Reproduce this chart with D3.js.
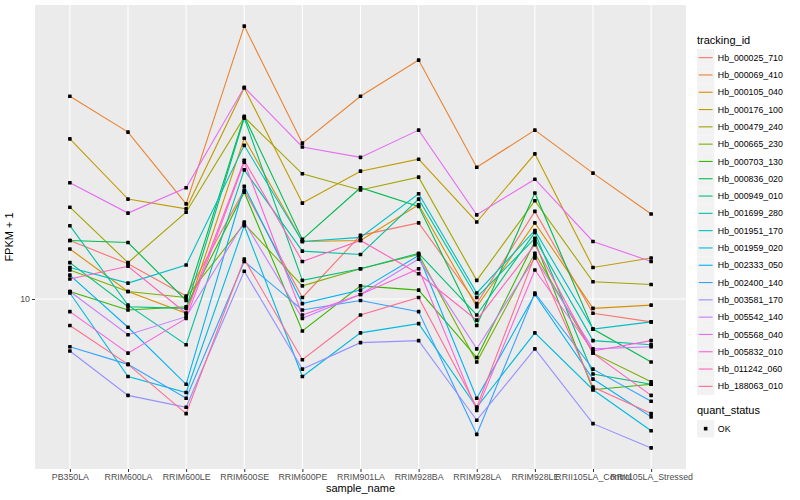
<!DOCTYPE html>
<html>
<head>
<meta charset="utf-8">
<script src="https://d3js.org/d3.v7.min.js"></script>
<style>
  body { margin: 0; background: #fff; }
  svg { font-family: "Liberation Sans", Arial, sans-serif; }
</style>
</head>
<body>
<svg id="chart" width="800" height="500"></svg>
<script>
// samples on the x axis
const categories = ["PB350LA", "RRIM600LA", "RRIM600LE", "RRIM600SE", "RRIM600PE",
  "RRIM901LA", "RRIM928BA", "RRIM928LA", "RRIM928LE", "RRII105LA_Control", "RRII105LA_Stressed"];

const trackingIds = ["Hb_000025_710", "Hb_000069_410", "Hb_000105_040", "Hb_000176_100",
  "Hb_000479_240", "Hb_000665_230", "Hb_000703_130", "Hb_000836_020", "Hb_000949_010",
  "Hb_001699_280", "Hb_001951_170", "Hb_001959_020", "Hb_002333_050", "Hb_002400_140",
  "Hb_003581_170", "Hb_005542_140", "Hb_005568_040", "Hb_005832_010", "Hb_011242_060",
  "Hb_188063_010"];

// FPKM + 1, one value per sample
const hb_000025_710 = [14.7, 12.6, 10.2, 20.5, 10.1, 15.2, 16.5, 9.7, 17.8, 9.1, 8.6];
const hb_000069_410 = [38.0, 30.0, 18.7, 60.3, 27.9, 38.0, 48.2, 23.8, 30.4, 22.9, 17.5];
const hb_000105_040 = [13.9, 10.5, 9.1, 28.8, 14.6, 14.7, 18.6, 9.5, 16.5, 9.4, 9.6];
const hb_000176_100 = [28.7, 19.3, 18.1, 40.1, 18.8, 23.2, 25.1, 16.6, 26.0, 12.3, 13.1];
const hb_000479_240 = [18.3, 12.7, 17.7, 33.1, 22.8, 20.5, 22.3, 11.3, 19.1, 11.2, 11.0];
const hb_000665_230 = [12.1, 10.5, 10.1, 16.4, 10.9, 12.2, 13.4, 6.6, 13.5, 7.0, 5.8];
const hb_000703_130 = [10.5, 9.3, 9.5, 20.2, 8.1, 10.9, 10.6, 6.8, 14.6, 5.5, 5.7];
const hb_000836_020 = [14.7, 14.5, 9.9, 33.3, 14.8, 20.8, 18.4, 8.4, 20.1, 8.2, 6.6];
const hb_000949_010 = [12.7, 9.5, 9.4, 32.9, 11.3, 12.2, 13.5, 9.0, 15.5, 6.1, 5.7];
const hb_001699_280 = [16.2, 9.6, 7.4, 23.4, 13.7, 13.4, 19.3, 10.1, 14.9, 7.6, 7.4];
const hb_001951_170 = [12.3, 11.1, 12.5, 27.5, 14.6, 15.0, 20.0, 10.4, 15.7, 8.2, 8.6];
const hb_001959_020 = [10.4, 6.0, 5.4, 16.2, 6.0, 8.0, 8.5, 4.9, 8.0, 5.5, 4.2];
const hb_002333_050 = [11.7, 8.3, 5.7, 21.0, 9.7, 10.6, 13.3, 5.2, 10.3, 5.9, 4.6];
const hb_002400_140 = [7.3, 6.5, 5.2, 12.8, 9.3, 9.9, 9.2, 4.1, 10.4, 6.3, 5.1];
const hb_003581_170 = [7.1, 5.3, 4.9, 12.0, 6.3, 7.5, 7.6, 4.5, 7.2, 4.4, 3.75];
const hb_005542_140 = [10.5, 7.9, 8.9, 16.6, 8.8, 10.3, 13.0, 7.2, 13.1, 7.2, 7.3];
const hb_005568_040 = [21.5, 17.6, 20.8, 40.3, 27.2, 25.4, 30.4, 17.4, 22.0, 14.6, 12.8];
const hb_005832_010 = [9.2, 7.0, 8.8, 24.6, 9.0, 10.3, 12.2, 4.8, 12.1, 7.1, 7.6];
const hb_011242_060 = [11.4, 12.4, 9.1, 24.9, 12.8, 14.7, 11.8, 8.7, 14.3, 7.0, 5.3];
const hb_188063_010 = [8.4, 6.5, 4.7, 13.0, 6.7, 9.0, 10.1, 4.9, 13.3, 5.6, 4.7];

const seriesValues = [hb_000025_710, hb_000069_410, hb_000105_040, hb_000176_100,
  hb_000479_240, hb_000665_230, hb_000703_130, hb_000836_020, hb_000949_010,
  hb_001699_280, hb_001951_170, hb_001959_020, hb_002333_050, hb_002400_140,
  hb_003581_170, hb_005542_140, hb_005568_040, hb_005832_010, hb_011242_060,
  hb_188063_010];

const yTicks = [10];

// ggplot hue palette for 20 levels
const palette = ["#F8766D", "#EA8331", "#D89000", "#C09B00", "#A3A500", "#7CAE00",
  "#39B600", "#00BB4E", "#00BF7D", "#00C1A3", "#00BFC4", "#00BAE0", "#00B0F6",
  "#35A2FF", "#9590FF", "#C77CFF", "#E76BF3", "#FA62DB", "#FF62BC", "#FF6C91"];

const series = trackingIds.map((id, i) => ({
  id: id,
  color: palette[i],
  points: categories.map((c, j) => ({ sample: c, value: seriesValues[i][j] }))
}));

const svg = d3.select("#chart");
const panel = { left: 35, right: 686, top: 5, bottom: 469 };

const x = d3.scalePoint()
  .domain(categories)
  .range([panel.left, panel.right])
  .padding(0.6);

// log scale with 5% expansion like ggplot
const allValues = seriesValues.flat();
const lo = Math.log10(d3.min(allValues)), hi = Math.log10(d3.max(allValues));
const pad = (hi - lo) * 0.05;
const y = d3.scaleLog()
  .domain([Math.pow(10, lo - pad), Math.pow(10, hi + pad)])
  .range([panel.bottom, panel.top]);

// panel background
svg.append("rect")
  .attr("x", panel.left).attr("y", panel.top)
  .attr("width", panel.right - panel.left)
  .attr("height", panel.bottom - panel.top)
  .attr("fill", "#EBEBEB");

// grid
const grid = svg.append("g");
grid.selectAll("line.gx")
  .data(categories)
  .join("line")
  .attr("class", "gx")
  .attr("x1", d => x(d)).attr("x2", d => x(d))
  .attr("y1", panel.top).attr("y2", panel.bottom)
  .attr("stroke", "#fff").attr("stroke-width", 1.1);
grid.selectAll("line.gy")
  .data(yTicks)
  .join("line")
  .attr("class", "gy")
  .attr("x1", panel.left).attr("x2", panel.right)
  .attr("y1", d => y(d)).attr("y2", d => y(d))
  .attr("stroke", "#fff").attr("stroke-width", 1.1);

// lines
const line = d3.line()
  .x(d => x(d.sample))
  .y(d => y(d.value));

svg.append("g")
  .selectAll("path")
  .data(series)
  .join("path")
  .attr("d", d => line(d.points))
  .attr("fill", "none")
  .attr("stroke", d => d.color)
  .attr("stroke-width", 1.1);

// points
const pt = 3.6;
svg.append("g")
  .selectAll("rect")
  .data(series.flatMap(s => s.points))
  .join("rect")
  .attr("x", d => x(d.sample) - pt / 2)
  .attr("y", d => y(d.value) - pt / 2)
  .attr("width", pt).attr("height", pt)
  .attr("rx", 0.6)
  .attr("fill", "#000");

// axes
const xAxis = svg.append("g")
  .attr("transform", `translate(0,${panel.bottom})`)
  .call(d3.axisBottom(x).tickSize(3).tickPadding(2));
const yAxis = svg.append("g")
  .attr("transform", `translate(${panel.left},0)`)
  .call(d3.axisLeft(y).tickValues(yTicks).tickFormat(d3.format("d")).tickSize(3).tickPadding(2));

[xAxis, yAxis].forEach(a => {
  a.select(".domain").remove();
  a.selectAll(".tick line").attr("stroke", "#333333");
  a.selectAll(".tick text")
    .attr("fill", "#4D4D4D")
    .attr("font-size", "8.8px")
    .attr("font-family", "'Liberation Sans', Arial, sans-serif");
});

svg.append("text")
  .attr("x", (panel.left + panel.right) / 2)
  .attr("y", 492)
  .attr("text-anchor", "middle")
  .attr("font-size", "11px")
  .text("sample_name");

svg.append("text")
  .attr("transform", `translate(13,${(panel.top + panel.bottom) / 2}) rotate(-90)`)
  .attr("text-anchor", "middle")
  .attr("font-size", "11px")
  .text("FPKM + 1");

// legend: tracking_id
const legend = svg.append("g").attr("transform", "translate(697,0)");
legend.append("text")
  .attr("x", 0).attr("y", 44)
  .attr("font-size", "11px")
  .text("tracking_id");

const keySize = 17.3;
const items = legend.selectAll("g.item")
  .data(series)
  .join("g")
  .attr("class", "item")
  .attr("transform", (d, i) => `translate(0,${49 + i * keySize})`);
items.append("rect")
  .attr("width", keySize).attr("height", keySize)
  .attr("fill", "#F2F2F2");
items.append("line")
  .attr("x1", 1.7).attr("x2", keySize - 1.7)
  .attr("y1", keySize / 2).attr("y2", keySize / 2)
  .attr("stroke", d => d.color)
  .attr("stroke-width", 1.1);
items.append("text")
  .attr("x", keySize + 3.5)
  .attr("y", keySize / 2)
  .attr("dy", "0.35em")
  .attr("font-size", "8.8px")
  .text(d => d.id);

// legend: quant_status
const legend2 = svg.append("g").attr("transform", "translate(697,0)");
legend2.append("text")
  .attr("x", 0).attr("y", 414)
  .attr("font-size", "11px")
  .text("quant_status");
legend2.append("rect")
  .attr("x", 0).attr("y", 420)
  .attr("width", keySize).attr("height", keySize)
  .attr("fill", "#F2F2F2");
legend2.append("rect")
  .attr("x", keySize / 2 - pt / 2).attr("y", 420 + keySize / 2 - pt / 2)
  .attr("width", pt).attr("height", pt)
  .attr("fill", "#000");
legend2.append("text")
  .attr("x", keySize + 3.5)
  .attr("y", 420 + keySize / 2)
  .attr("dy", "0.35em")
  .attr("font-size", "8.8px")
  .text("OK");
</script>
</body>
</html>
